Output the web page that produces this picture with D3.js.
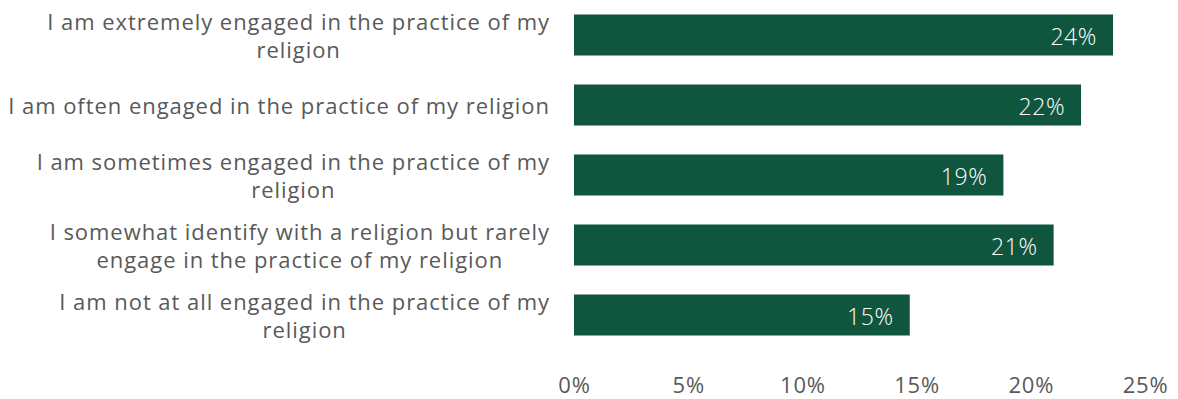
<!DOCTYPE html>
<html>
<head>
<meta charset="utf-8">
<script src="https://cdn.jsdelivr.net/npm/d3@7"></script>
<style>
  html, body { margin: 0; padding: 0; background: #ffffff; }
  svg { display: block; }
</style>
</head>
<body>
<svg id="chart" width="1178" height="399"></svg>
<script>
// Engagement levels (each entry is one label, split into its display lines)
const categories = [
  ["I am extremely engaged in the practice of my", "religion"],
  ["I am often engaged in the practice of my religion"],
  ["I am sometimes engaged in the practice of my", "religion"],
  ["I somewhat identify with a religion but rarely", "engage in the practice of my religion"],
  ["I am not at all engaged in the practice of my", "religion"]
];
// Share of respondents, in percent
const values = [23.6, 22.2, 18.8, 21.0, 14.7];
// Horizontal axis ticks, in percent
const ticks = [0, 5, 10, 15, 20, 25];

const barColor = "#10563F";
const textColor = "#595959";
const labelFont = "'Open Sans', 'Noto Sans', sans-serif";

const svg = d3.select("#chart");
const data = categories.map((c, i) => ({ lines: c, value: values[i], i }));

const x = d3.scaleLinear().domain([0, 25]).range([574, 1145]);
const y = d3.scaleBand().domain(d3.range(categories.length)).range([0, 350]).paddingInner(0.414).paddingOuter(0.207);

// Bars
svg.append("g").selectAll("rect")
  .data(data)
  .join("rect")
  .attr("x", x(0))
  .attr("y", d => y(d.i))
  .attr("width", d => x(d.value) - x(0))
  .attr("height", y.bandwidth())
  .attr("fill", barColor);

// Value labels inside the bar ends
svg.append("g").selectAll("text")
  .data(data)
  .join("text")
  .attr("x", d => x(d.value) - 16)
  .attr("y", d => y(d.i) + y.bandwidth() / 2 + 1)
  .attr("text-anchor", "end")
  .attr("dominant-baseline", "central")
  .attr("fill", "#ffffff")
  .style("font-family", labelFont)
  .style("font-weight", 300)
  .style("font-size", "23px")
  .style("letter-spacing", "0.6px")
  .text(d => Math.round(d.value) + "%");

// Category labels: block right-aligned to the axis gap, lines centred within it
const labelRight = 550;
const lineH = 28.5;
const catG = svg.append("g");
data.forEach(d => {
  const g = catG.append("g");
  const n = d.lines.length;
  const cy = y(d.i) + y.bandwidth() / 2;
  const texts = d.lines.map((line, k) =>
    g.append("text")
      .attr("y", cy + (k - (n - 1) / 2) * lineH)
      .attr("dominant-baseline", "central")
      .attr("text-anchor", "middle")
      .attr("fill", textColor)
      .style("font-family", labelFont)
      .style("font-size", "22px")
      .style("letter-spacing", "0.95px")
      .text(line)
  );
  const w = d3.max(texts, t => t.node().getComputedTextLength());
  texts.forEach(t => t.attr("x", labelRight - w / 2));
});

// Bottom axis: tick labels only
const axis = d3.axisBottom(x)
  .tickValues(ticks)
  .tickSize(0)
  .tickPadding(0)
  .tickFormat(d => d + "%");
const ax = svg.append("g").attr("transform", "translate(0,384)").call(axis);
ax.select(".domain").remove();
ax.selectAll("text")
  .attr("dy", null)
  .attr("y", 0)
  .attr("dominant-baseline", "central")
  .attr("fill", textColor)
  .style("font-family", labelFont)
  .style("font-size", "22px")
  .style("letter-spacing", "0.8px");
</script>
</body>
</html>
